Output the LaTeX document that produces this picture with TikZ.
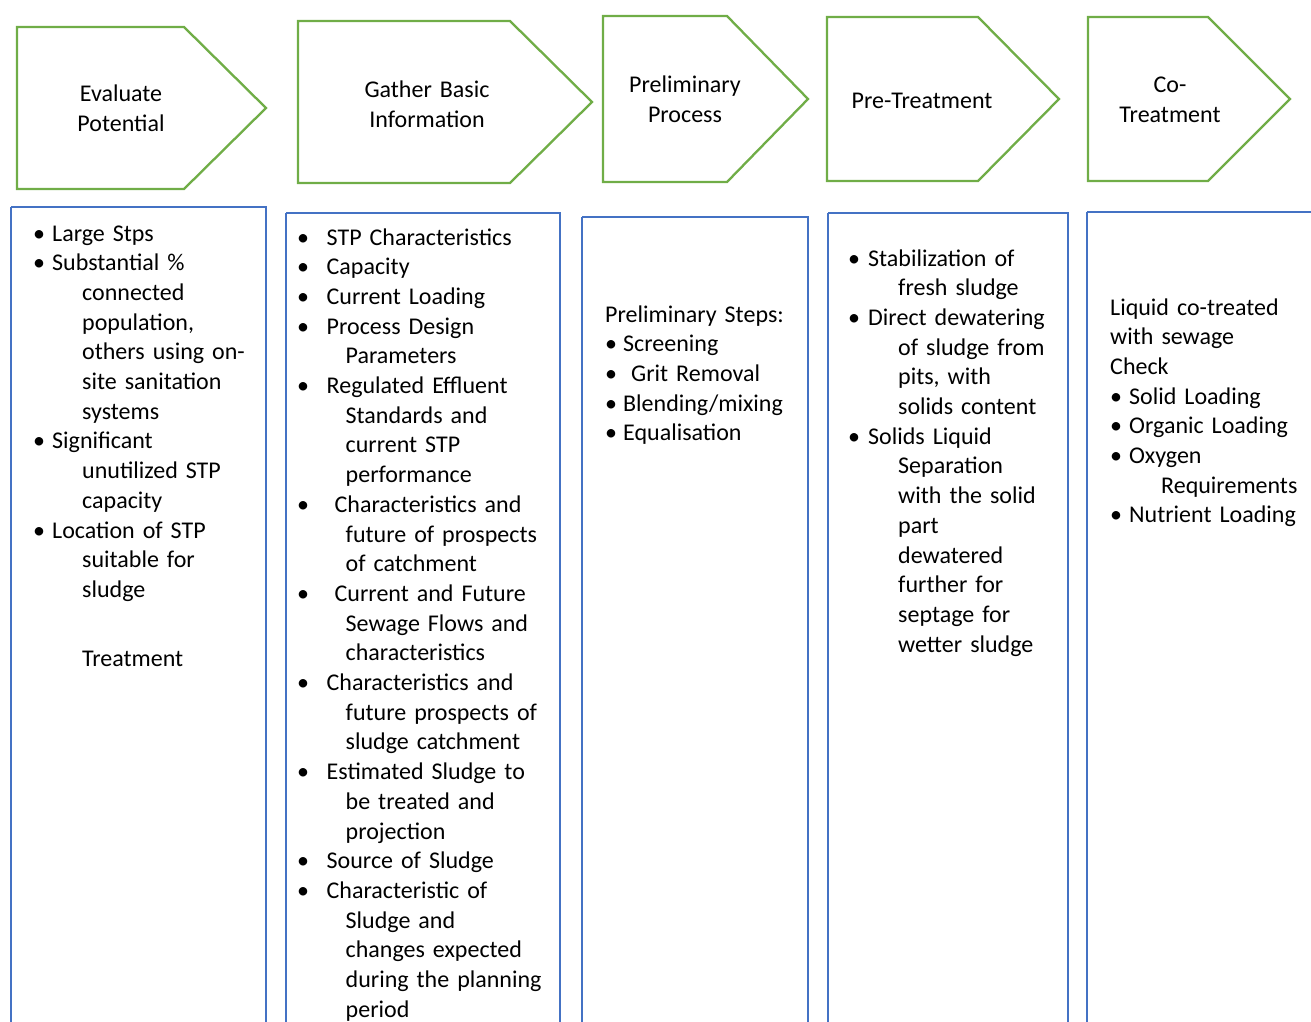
\documentclass[tikz,border=0pt]{standalone}
\usepackage{fontspec}
\setmainfont{Carlito}
\definecolor{stagegreen}{HTML}{70AD47}
\definecolor{panelblue}{HTML}{4472C4}
\newlength\bulw
\newlength\hangw
\newcommand{\bi}{\makebox[\bulw][l]{\textbullet}}
\newcommand{\ci}{\hspace*{\hangw}}
\begin{document}
\begin{tikzpicture}[x=1pt,y=-1pt,
  stage/.style={draw=stagegreen,line width=2.3pt,line join=miter},
  panel/.style={draw=panelblue,line width=2.8pt},
  stagelabel/.style={anchor=base,inner sep=0pt,text width=200pt,align=center,
    font=\fontsize{24}{30}\selectfont},
  list/.style 2 args={anchor=base west,inner sep=0pt,text width=300pt,align=left,
    font=\fontsize{24}{29.7}\selectfont,
    execute at begin node={\setlength\bulw{#1}\setlength\hangw{#2}}}]
\useasboundingbox (0,0) rectangle (1311,1021);
\clip (0,0) rectangle (1311,1021);

% stage arrows
\foreach \l/\n/\r/\t/\b in {17/184/266/27/189, 298/510/592/21/183, 603/727/808/16/182,
  827/978/1059/17/181, 1088/1208/1290/17/181}
\draw[stage] (\l,\t) -- (\n,\t) -- (\r,{(\t+\b)/2}) -- (\n,\b) -- (\l,\b) -- cycle;

\node[stagelabel] (evaluate) at (121,101) {Evaluate\\Potential};
\node[stagelabel] (gather) at (427,97) {Gather Basic\\Information};
\node[stagelabel] (prelim) at (685,92) {Preliminary\\Process};
\node[stagelabel] (pretreat) at (922,108) {Pre-Treatment};
\node[stagelabel] (cotreat) at (1170,92) {Co-\\Treatment};

% panels (run past the lower edge)
\foreach \l/\t/\r in {11/207/266, 286/213/560, 582/217/808, 828/213/1068, 1087/212/1330}
\draw[panel] (\l,\t) -- (\l,1040) (\l,\t) -- (\r,\t) -- (\r,1040);

\node[list={19pt}{49pt}] (evallist) at (33,241) {%
\bi Large Stps\\
\bi Substantial \%\\
\ci connected\\
\ci population,\\
\ci others using on-\\
\ci site sanitation\\
\ci systems\\
\bi Significant\\
\ci unutilized STP\\
\ci capacity\\
\bi Location of STP\\
\ci suitable for\\
\ci sludge\\[39.3pt]
\ci Treatment};

\node[list={29.5pt}{48.5pt}] (gatherlist) at (297,245) {%
\bi STP Characteristics\\
\bi Capacity\\
\bi Current Loading\\
\bi Process Design\\
\ci Parameters\\
\bi Regulated Effluent\\
\ci Standards and\\
\ci current STP\\
\ci performance\\
\bi\ Characteristics and\\
\ci future of prospects\\
\ci of catchment\\
\bi\ Current and Future\\
\ci Sewage Flows and\\
\ci characteristics\\
\bi Characteristics and\\
\ci future prospects of\\
\ci sludge catchment\\
\bi Estimated Sludge to\\
\ci be treated and\\
\ci projection\\
\bi Source of Sludge\\
\bi Characteristic of\\
\ci Sludge and\\
\ci changes expected\\
\ci during the planning\\
\ci period};

\node[list={18pt}{0pt}] (prelimlist) at (605,322) {%
Preliminary Steps:\\
\bi Screening\\
\bi\ Grit Removal\\
\bi Blending/mixing\\
\bi Equalisation};

\node[list={20pt}{50pt}] (pretreatlist) at (848,266) {%
\bi Stabilization of\\
\ci fresh sludge\\
\bi Direct dewatering\\
\ci of sludge from\\
\ci pits, with\\
\ci solids content\\
\bi Solids Liquid\\
\ci Separation\\
\ci with the solid\\
\ci part\\
\ci dewatered\\
\ci further for\\
\ci septage for\\
\ci wetter sludge};

\node[list={19pt}{51pt}] (cotreatlist) at (1110,315) {%
Liquid co-treated\\
with sewage\\
Check\\
\bi Solid Loading\\
\bi Organic Loading\\
\bi Oxygen\\
\ci Requirements\\
\bi Nutrient Loading};
\end{tikzpicture}
\end{document}
